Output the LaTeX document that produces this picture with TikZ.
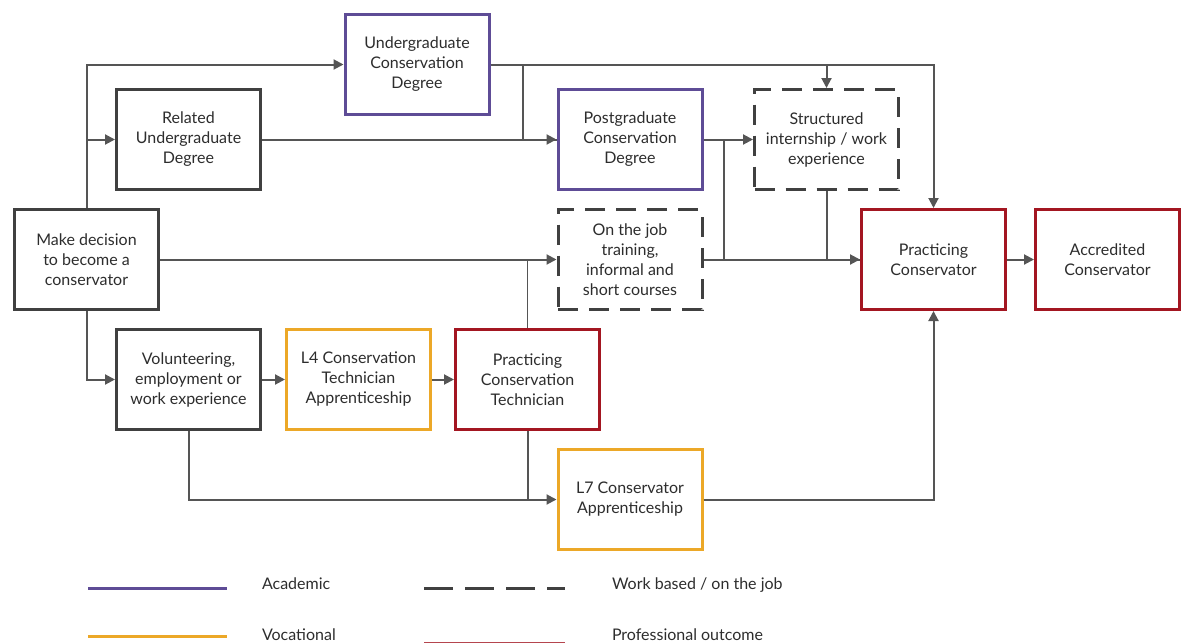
\documentclass[tikz,border=0pt]{standalone}
\usepackage{fontspec}
\setmainfont{Lato}
\usetikzlibrary{arrows.meta,positioning}
\definecolor{Academic}{RGB}{94,76,150}
\definecolor{Vocational}{RGB}{236,168,40}
\definecolor{Outcome}{RGB}{163,22,33}
\definecolor{BoxGrey}{RGB}{64,64,64}
\definecolor{LineGrey}{RGB}{85,85,85}
\definecolor{TextGrey}{RGB}{45,45,45}

\begin{document}
\begin{tikzpicture} [x=1pt, y=1pt,
       >={Triangle[length=10pt,width=10pt]}, LineGrey, text=TextGrey, line width=2pt,
       every node/.style={font=\fontsize{16}{20}\selectfont},
       pathway/.style = {rectangle, minimum width=144pt, minimum height=100pt,
                         line width=3pt, draw=#1, fill=white, align=center, inner sep=2pt},
       workbased/.style = {pathway=BoxGrey, dash pattern=on 20pt off 11pt},
       legendtext/.style = {anchor=base west, inner sep=0pt}]
	\useasboundingbox (0,0) rectangle (1182,-642);

	%% Starting point
	\node [pathway=BoxGrey] (dec) at (86.5,-259.5) {Make decision\\to become a\\conservator};

	%% Academic route
	\node [pathway=BoxGrey] (rud) at (188.5,-139.5) {Related\\Undergraduate\\Degree};
	\node [pathway=Academic] (ucd) at (417,-64.5) {Undergraduate\\Conservation\\Degree};
	\node [pathway=Academic] (pcd) at (630,-139.5) {Postgraduate\\Conservation\\Degree};

	%% Work based
	\node [workbased] (sie) at (826.5,-139.5) {Structured\\internship / work\\experience};
	\node [workbased] (otj) at (630,-259.5) {On the job\\training,\\informal and\\short courses};

	%% Vocational route
	\node [pathway=BoxGrey] (vol) at (188.5,-379.5) {Volunteering,\\employment or\\work experience};
	\node [pathway=Vocational, right = 23pt of vol] (ltech) {L4 Conservation\\Technician\\Apprenticeship};
	\node [pathway=Outcome, right = 22pt of ltech] (pct) {Practicing\\Conservation\\Technician};
	\node [pathway=Vocational] (lcons) at (630,-499.5) {L7 Conservator\\Apprenticeship};

	%% Outcomes
	\node [pathway=Outcome] (pc) at (933.5,-259.5) {Practicing\\Conservator};
	\node [pathway=Outcome, right = 27pt of pc] (ac) {Accredited\\Conservator};

	%% Paths
	\draw[->] (dec.north) |- (ucd.west);
	\draw[->] (dec.north |- rud.west) -- (rud.west);
	\draw[->] (rud.east) -- (pcd.west);
	\draw[->] (ucd.east) -| (pc.north);
	\draw ([xshift=32pt]ucd.east) |- (pcd.west);
	\draw[->] (ucd.east -| sie.north) -- (sie.north);
	\draw[->] (pcd.east) -- (sie.west);
	\draw ([xshift=20pt]pcd.east) |- (pc.west);
	\draw (sie.south) -- (sie.south |- pc.west);
	\draw[->] (dec.east) -- (otj.west);
	\draw[->] (otj.east) -- (pc.west);
	\draw[line width=1pt] (pct.north) -- (pct.north |- otj.west);
	\draw[->] (dec.south) |- (vol.west);
	\draw[->] (vol.east) -- (ltech.west);
	\draw[->] (ltech.east) -- (pct.west);
	\draw[->] (vol.south) |- (lcons.west);
	\draw (pct.south) -- (pct.south |- lcons.west);
	\draw[->] (lcons.east) -| (pc.south);
	\draw[->] (pc.east) -- (ac.west);

	%% Legend
	\draw[Academic, line width=3pt] (88,-588) -- (227,-588);
	\node [legendtext] (lacad) at (261,-589) {Academic};
	\draw[Vocational, line width=3pt] (88,-636) -- (227,-636);
	\node [legendtext] (lvoc) at (261,-640) {Vocational};
	\draw[BoxGrey, line width=3pt, dash pattern=on 29pt off 12pt] (424,-588) -- (565,-588);
	\node [legendtext] (lwork) at (611,-589) {Work based / on the job};
	\draw[Outcome!80, line width=3pt] (424,-643) -- (565,-643);
	\node [legendtext] (lout) at (611,-640) {Professional outcome};
\end{tikzpicture}
\end{document}
